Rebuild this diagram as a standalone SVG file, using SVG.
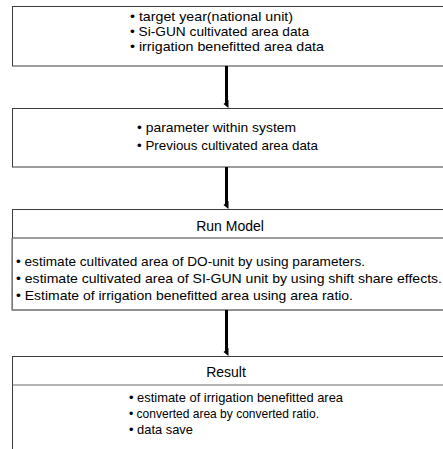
<svg xmlns="http://www.w3.org/2000/svg" width="443" height="449" viewBox="0 0 443 449">
<style>
.box{fill:#ffffff;stroke:#3c3c3c;stroke-width:1}
.soft{fill:none;stroke:#8c8c8c;stroke-width:1.5}
.t{font-family:"Liberation Sans",Arial,sans-serif;font-size:13.5px;fill:#000000}
.h{font-family:"Liberation Sans",Arial,sans-serif;font-size:14px;fill:#000000;text-anchor:middle}
.arr{stroke:#000000;stroke-width:3;fill:none}
</style>
<defs>
<marker id="ah" markerWidth="8" markerHeight="6" refX="4" refY="2" orient="auto" markerUnits="userSpaceOnUse" viewBox="0 0 8 6">
<path d="M0,0 L8,0 L4,5 Z" fill="#000000"/>
</marker>
</defs>
<rect width="443" height="449" fill="#ffffff"/>
<g id="input-data">
<rect class="box" x="12.5" y="6.5" width="440" height="59.5"/>
<text class="t" x="130" y="21" textLength="163" lengthAdjust="spacingAndGlyphs">• target year(national unit)</text>
<text class="t" x="130" y="36" textLength="179" lengthAdjust="spacingAndGlyphs">• Si-GUN cultivated area data</text>
<text class="t" x="130" y="51" textLength="194" lengthAdjust="spacingAndGlyphs">• irrigation benefitted area data</text>
</g>
<g id="parameters">
<rect class="box" x="12.5" y="108.5" width="440" height="58.5"/>
<text class="t" x="137" y="132" textLength="159" lengthAdjust="spacingAndGlyphs">• parameter within system</text>
<text class="t" x="137" y="150" textLength="181" lengthAdjust="spacingAndGlyphs">• Previous cultivated area data</text>
</g>
<g id="run-model">
<rect class="box" x="12.5" y="209.5" width="440" height="100.5"/>
<line x1="12.5" y1="238" x2="452" y2="238" stroke="#3c3c3c" stroke-width="1"/>
<path class="soft" d="M12,238 V310 H452"/>
<text class="h" x="230" y="231">Run Model</text>
<text class="t" x="16" y="266" textLength="349" lengthAdjust="spacingAndGlyphs">• estimate cultivated area of DO-unit by using parameters.</text>
<text class="t" x="16" y="283" textLength="426" lengthAdjust="spacingAndGlyphs">• estimate cultivated area of SI-GUN unit by using shift share effects.</text>
<text class="t" x="16" y="300" textLength="337" lengthAdjust="spacingAndGlyphs">• Estimate of irrigation benefitted area using area ratio.</text>
</g>
<g id="result">
<rect class="box" x="12.5" y="356.5" width="440" height="100"/>
<line x1="12.5" y1="385" x2="452" y2="385" stroke="#6a6a6a" stroke-width="1.2"/>
<text class="h" x="226" y="377">Result</text>
<text class="t" x="129" y="402" textLength="214" lengthAdjust="spacingAndGlyphs">• estimate of irrigation benefitted area</text>
<text class="t" x="129" y="418" textLength="190" lengthAdjust="spacingAndGlyphs">• converted area by converted ratio.</text>
<text class="t" x="129" y="434" textLength="64" lengthAdjust="spacingAndGlyphs">• data save</text>
</g>
<g id="connectors">
<line class="arr" x1="226.5" y1="66" x2="226.5" y2="104" marker-end="url(#ah)"/>
<line class="arr" x1="226.5" y1="167" x2="226.5" y2="205" marker-end="url(#ah)"/>
<line class="arr" x1="226.5" y1="310" x2="226.5" y2="352" marker-end="url(#ah)"/>
</g>
</svg>
